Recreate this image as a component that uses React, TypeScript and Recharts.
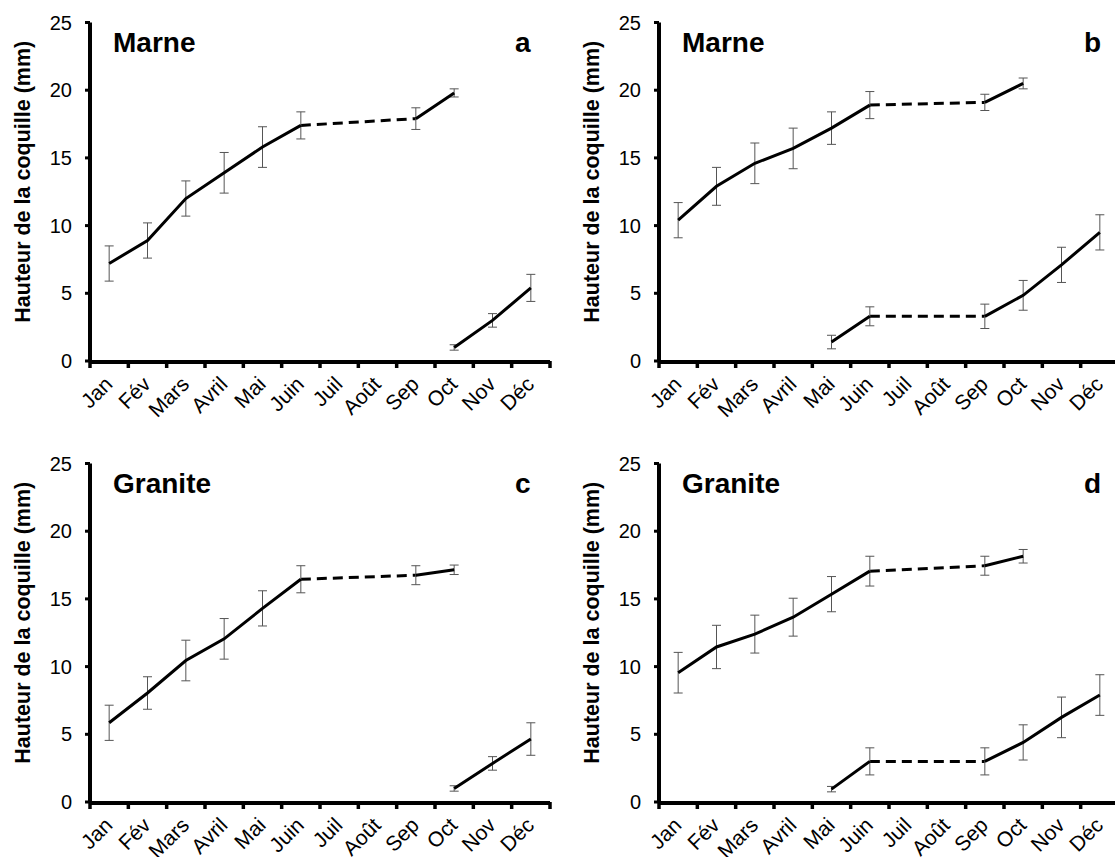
import React from "react";
import { LineChart, Line, XAxis, YAxis, ErrorBar } from "recharts";

const months = ["Jan", "Fév", "Mars", "Avril", "Mai", "Juin", "Juil", "Août", "Sep", "Oct", "Nov", "Déc"];
const yTicks = [0, 5, 10, 15, 20, 25];

// a : Marne
const aAdult = [7.2, 8.9, 12.0, 13.9, 15.8, 17.4, null, null, 17.9, 19.8, null, null];
const aAdultErr = [1.3, 1.3, 1.3, 1.5, 1.5, 1.0, null, null, 0.8, 0.3, null, null];
const aJuv = [null, null, null, null, null, null, null, null, null, 1.0, 3.0, 5.4];
const aJuvErr = [null, null, null, null, null, null, null, null, null, 0.2, 0.5, 1.0];

// b : Marne
const bAdult = [10.4, 12.9, 14.6, 15.7, 17.2, 18.9, null, null, 19.1, 20.5, null, null];
const bAdultErr = [1.3, 1.4, 1.5, 1.5, 1.2, 1.0, null, null, 0.6, 0.4, null, null];
const bJuv = [null, null, null, null, 1.4, 3.3, null, null, 3.3, 4.85, 7.1, 9.5];
const bJuvErr = [null, null, null, null, 0.5, 0.7, null, null, 0.9, 1.1, 1.3, 1.3];

// c : Granite
const cAdult = [5.85, 8.05, 10.45, 12.05, 14.3, 16.45, null, null, 16.75, 17.15, null, null];
const cAdultErr = [1.3, 1.2, 1.5, 1.5, 1.3, 1.0, null, null, 0.7, 0.35, null, null];
const cJuv = [null, null, null, null, null, null, null, null, null, 1.0, 2.85, 4.65];
const cJuvErr = [null, null, null, null, null, null, null, null, null, 0.2, 0.5, 1.2];

// d : Granite
const dAdult = [9.55, 11.45, 12.4, 13.65, 15.35, 17.05, null, null, 17.45, 18.15, null, null];
const dAdultErr = [1.5, 1.6, 1.4, 1.4, 1.3, 1.1, null, null, 0.7, 0.5, null, null];
const dJuv = [null, null, null, null, 0.95, 3.0, null, null, 3.0, 4.4, 6.25, 7.9];
const dJuvErr = [null, null, null, null, 0.2, 1.0, null, null, 1.0, 1.3, 1.5, 1.5];

const FONT = "'Liberation Sans', Arial, Helvetica, sans-serif";

// gap Juin -> Sep drawn dashed
const dashed = (arr: (number | null)[]) => arr.map((v, i) => (i === 5 || i === 8 ? v : null));

const edgeTicks = months.map((_, i) => i).concat([12]);
const midTicks = months.map((_, i) => i + 0.5);

const noTick = () => <g />;

const YLabel = (props: any) => {
  const { viewBox } = props;
  const cx = viewBox.x + 30;
  const cy = viewBox.y + viewBox.height / 2 - 10;
  return (
    <text x={cx} y={cy} transform={`rotate(-90 ${cx} ${cy})`} textAnchor="middle"
      fontSize={21.5} fontWeight="bold" fontFamily={FONT} fill="#000">
      Hauteur de la coquille (mm)
    </text>
  );
};

type PanelProps = {
  left: number;
  top: number;
  title: string;
  letter: string;
  adult: (number | null)[];
  adultErr: (number | null)[];
  juv: (number | null)[];
  juvErr: (number | null)[];
};

const Panel: React.FC<PanelProps> = ({ left, top, title, letter, adult, adultErr, juv, juvErr }) => {
  const adultDash = dashed(adult);
  const juvDash = dashed(juv);
  const data = months.map((m, i) => ({
    x: i + 0.5,
    adult: adult[i],
    adultErr: adultErr[i],
    adultDash: adultDash[i],
    juv: juv[i],
    juvErr: juvErr[i],
    juvDash: juvDash[i],
  }));

  return (
    <div style={{ position: "absolute", left, top, width: 557, height: 440 }}>
      <LineChart width={557} height={440} data={data}
        margin={{ top: 22.5, right: 7, bottom: 19, left: 0 }}>
        {/* month boundaries: tick marks only */}
        <XAxis xAxisId="edge" type="number" dataKey="x" domain={[0, 12]} ticks={edgeTicks}
          interval={0} height={1} tick={noTick} axisLine={false}
          tickLine={{ stroke: "#000", strokeWidth: 3.5 }} tickSize={7} />
        {/* month names centred in each month */}
        <XAxis xAxisId="m" type="number" dataKey="x" domain={[0, 12]} ticks={midTicks}
          interval={0} height={59} tickLine={false} tickSize={0} tickMargin={0}
          axisLine={{ stroke: "#000", strokeWidth: 4 }}
          tickFormatter={(v: number) => months[Math.floor(v)]}
          tick={{ angle: -45, textAnchor: "end", fontSize: 21, fontFamily: FONT, fill: "#000", dx: -6, dy: 13 }} />
        <YAxis type="number" domain={[0, 25]} ticks={yTicks} interval={0} width={90}
          axisLine={{ stroke: "#000", strokeWidth: 4 }}
          tickLine={{ stroke: "#000", strokeWidth: 3 }} tickSize={5} tickMargin={13}
          tick={{ fill: "#000", fontSize: 20, fontFamily: FONT }}
          label={{ content: <YLabel /> }} />
        <Line xAxisId="m" dataKey="adultDash" stroke="#000" strokeWidth={3} strokeDasharray="10 6"
          dot={false} connectNulls isAnimationActive={false} />
        <Line xAxisId="m" dataKey="juvDash" stroke="#000" strokeWidth={3} strokeDasharray="10 6"
          dot={false} connectNulls isAnimationActive={false} />
        <Line xAxisId="m" dataKey="adult" stroke="#000" strokeWidth={3} dot={false}
          connectNulls={false} isAnimationActive={false}>
          <ErrorBar dataKey="adultErr" direction="y" width={4.5} stroke="#555" strokeWidth={1} />
        </Line>
        <Line xAxisId="m" dataKey="juv" stroke="#000" strokeWidth={3} dot={false}
          connectNulls={false} isAnimationActive={false}>
          <ErrorBar dataKey="juvErr" direction="y" width={4.5} stroke="#555" strokeWidth={1} />
        </Line>
      </LineChart>
      <div style={{ position: "absolute", left: 113, top: 29, fontSize: 28, lineHeight: "28px",
        fontWeight: "bold", fontFamily: FONT, color: "#000" }}>{title}</div>
      <div style={{ position: "absolute", left: 515, top: 29, fontSize: 28, lineHeight: "28px",
        fontWeight: "bold", fontFamily: FONT, color: "#000" }}>{letter}</div>
    </div>
  );
};

export default function App() {
  return (
    <div style={{ position: "absolute", left: 0, top: 0, width: 1115, height: 857,
      overflow: "hidden", background: "#fff" }}>
      <Panel left={0} top={0} title="Marne" letter="a"
        adult={aAdult} adultErr={aAdultErr} juv={aJuv} juvErr={aJuvErr} />
      <Panel left={569} top={0} title="Marne" letter="b"
        adult={bAdult} adultErr={bAdultErr} juv={bJuv} juvErr={bJuvErr} />
      <Panel left={0} top={441} title="Granite" letter="c"
        adult={cAdult} adultErr={cAdultErr} juv={cJuv} juvErr={cJuvErr} />
      <Panel left={569} top={441} title="Granite" letter="d"
        adult={dAdult} adultErr={dAdultErr} juv={dJuv} juvErr={dJuvErr} />
    </div>
  );
}
